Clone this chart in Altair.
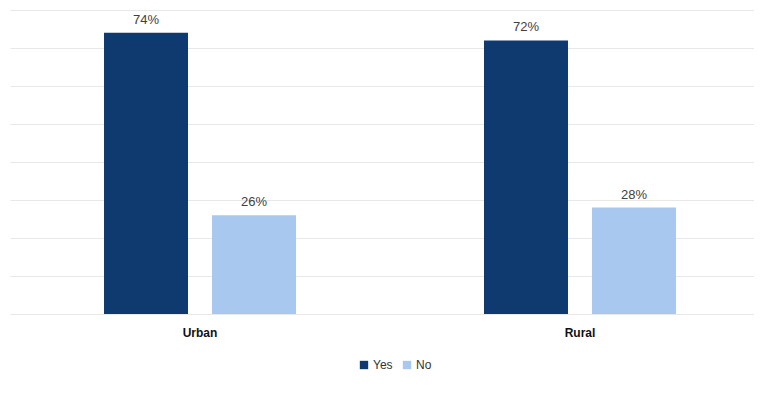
import altair as alt
import pandas as pd

categories = ["Urban", "Urban", "Rural", "Rural"]
series = ["Yes", "No", "Yes", "No"]
values = [74, 26, 72, 28]
labels = ["74%", "26%", "72%", "28%"]

df = pd.DataFrame({"Area": categories, "Answer": series, "Value": values, "Label": labels})

x = alt.X("Area:N", sort=["Urban", "Rural"],
          scale=alt.Scale(paddingInner=0.3684, paddingOuter=0.1632, align=0.5645),
          axis=alt.Axis(title=None, labelAngle=0, labelFontWeight="bold", labelFontSize=12,
                        labelFont="Liberation Sans", labelColor="#111111", labelPadding=13,
                        domain=False, ticks=False))
xo = alt.XOffset("Answer:N", sort=["Yes", "No"],
                 scale=alt.Scale(paddingInner=0.2222, paddingOuter=0.2222))
y = alt.Y("Value:Q", scale=alt.Scale(domain=[0, 80]),
          axis=alt.Axis(title=None, labels=False, ticks=False, domain=False,
                        values=[0, 10, 20, 30, 40, 50, 60, 70, 80],
                        gridColor="#e8e8e8", gridWidth=1.2))
color = alt.Color("Answer:N", sort=["Yes", "No"],
                  scale=alt.Scale(domain=["Yes", "No"], range=["#0e3a6f", "#a9c8ef"]),
                  legend=alt.Legend(title=None, orient="none", direction="horizontal",
                                    legendX=348, legendY=349, symbolType="square",
                                    symbolSize=70, symbolStrokeWidth=0, labelFontSize=12,
                                    labelFont="Liberation Sans", labelColor="#333333",
                                    columnPadding=8, labelOffset=3))

bars = alt.Chart(df).mark_bar().encode(x=x, xOffset=xo, y=y, color=color)
text = alt.Chart(df).mark_text(baseline="bottom", dy=-6, fontSize=13,
                               font="Liberation Sans", color="#404040").encode(
    x=x, xOffset=xo, y=y, text="Label:N")

chart = (bars + text).properties(
    width=744, height=304,
    padding={"left": 2, "top": 2, "right": 0, "bottom": 0},
    background="white",
).configure_view(stroke=None)

chart.save("out.html", embed_options={"renderer": "svg", "actions": False})
